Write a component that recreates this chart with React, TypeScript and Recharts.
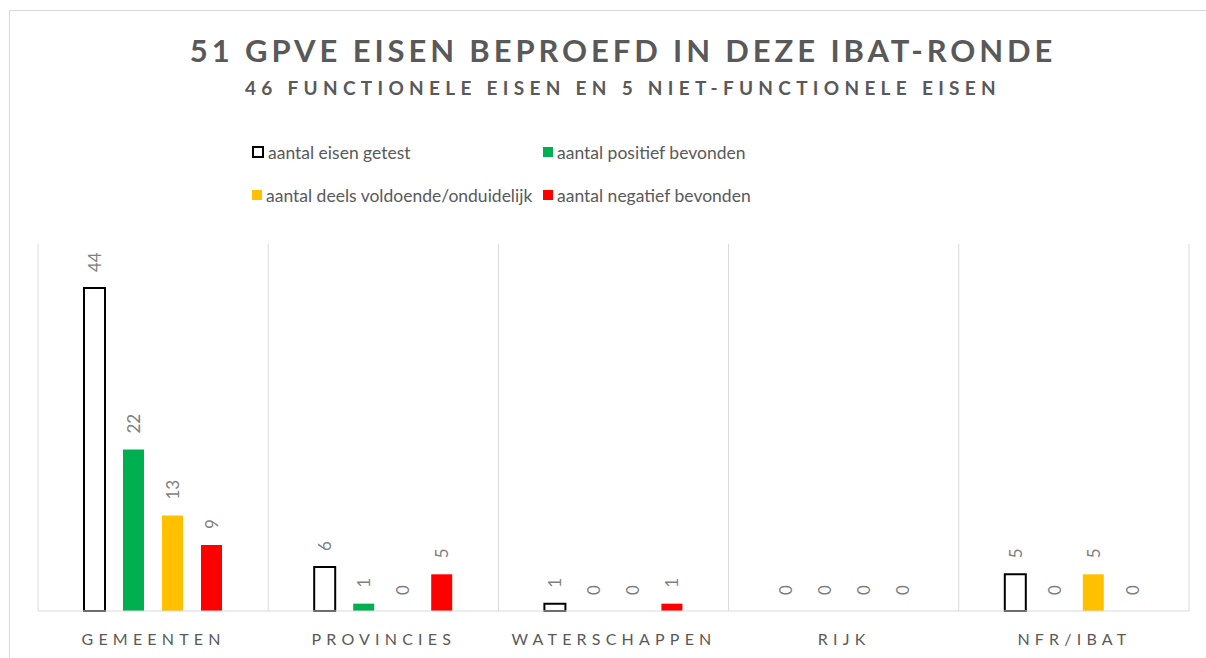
import { BarChart, Bar, XAxis, YAxis, CartesianGrid, Legend, LabelList, Cell } from 'recharts';

const categories = ['GEMEENTEN', 'PROVINCIES', 'WATERSCHAPPEN', 'RIJK', 'NFR/IBAT'];
const getest = [44, 6, 1, 0, 5];
const positief = [22, 1, 0, 0, 0];
const deels = [13, 0, 0, 0, 5];
const negatief = [9, 5, 1, 0, 0];

const seriesOrder = ['getest', 'positief', 'deels', 'negatief'];

const data = categories.map((name, i) => ({
  name,
  getest: getest[i],
  positief: positief[i],
  deels: deels[i],
  negatief: negatief[i],
}));

const FONT = 'Lato, "Noto Sans", sans-serif';
const GRID = '#d9d9d9';
const TEXT = '#595959';

// zero bars get a hairline height so recharts still places their labels
const zeroMin = (value: any) => (value === 0 ? 0.01 : 0);

// value label, rotated so it reads bottom-to-top above the bar
const RotatedLabel = (props: any) => {
  const { x, y, width, height, value } = props;
  const cx = x + width / 2;
  const top = Math.min(y, y + height) - 16;
  return (
    <text
      x={cx}
      y={top}
      transform={`rotate(-90 ${cx} ${top})`}
      textAnchor="start"
      dominantBaseline="central"
      fill="#7f7f7f"
      fontSize={17}
      fontFamily={FONT}
    >
      {value}
    </text>
  );
};

const CategoryTick = (props: any) => {
  const { x, y, payload } = props;
  return (
    <text
      x={x + 0.5}
      y={y + 26}
      textAnchor="middle"
      fill={TEXT}
      fontSize={16}
      letterSpacing={5.2}
      fontFamily={FONT}
    >
      {payload.value}
    </text>
  );
};

const LegendContent = (props: any) => {
  const payload = [...(props.payload || [])].sort(
    (a: any, b: any) => seriesOrder.indexOf(a.dataKey) - seriesOrder.indexOf(b.dataKey)
  );
  const cols = [266, 557];
  const rows = [152, 195];
  return (
    <div style={{ position: 'relative', width: 1206, height: 80 }}>
      {payload.map((item: any, i: number) => {
        const hollow = item.dataKey === 'getest';
        return (
          <div
            key={item.value}
            style={{
              position: 'absolute',
              left: cols[i % 2] - 14,
              top: rows[Math.floor(i / 2)] - 130 - 12,
              height: 24,
              display: 'flex',
              alignItems: 'center',
              whiteSpace: 'nowrap',
            }}
          >
            <span
              style={{
                display: 'inline-block',
                width: hollow ? 8 : 10,
                height: hollow ? 8 : 10,
                background: hollow ? '#fff' : item.color,
                border: hollow ? '2px solid #000' : 'none',
                marginRight: 4,
              }}
            />
            <span style={{ color: TEXT, fontSize: 17.5, fontFamily: FONT }}>{item.value}</span>
          </div>
        );
      })}
    </div>
  );
};

export default function App() {
  return (
    <div style={{ position: 'relative', width: 1206, height: 658, overflow: 'hidden', background: '#fff' }}>
      <style>{'body{margin:0}'}</style>
      <div
        style={{
          position: 'absolute',
          left: 9,
          top: 10,
          width: 1220,
          height: 680,
          border: `1px solid ${GRID}`,
        }}
      />
      <div
        style={{
          position: 'absolute',
          top: 30,
          width: 1206,
          left: 20,
          textAlign: 'center',
          fontFamily: FONT,
          fontWeight: 700,
          color: TEXT,
        }}
      >
        <div style={{ fontSize: 31, letterSpacing: 3.9, lineHeight: '40px' }}>51 GPVE EISEN BEPROEFD IN DEZE IBAT-RONDE</div>
        <div style={{ fontSize: 19, letterSpacing: 5.3, lineHeight: '26px', marginTop: 5 }}>
          46 FUNCTIONELE EISEN EN 5 NIET-FUNCTIONELE EISEN
        </div>
      </div>
      <BarChart
        width={1206}
        height={658}
        data={data}
        margin={{ top: 244, right: 17, left: 38, bottom: 0 }}
        barSize={21}
        barGap={18}
        style={{ position: 'absolute', left: 0, top: 0 }}
      >
        <CartesianGrid
          horizontal={false}
          stroke={GRID}
          verticalCoordinatesGenerator={({ offset }: any) =>
            categories.map((_, i) => offset.left + (i * offset.width) / categories.length).concat(offset.left + offset.width)
          }
        />
        <XAxis
          dataKey="name"
          height={47}
          tickLine={false}
          axisLine={{ stroke: GRID }}
          tick={<CategoryTick />}
          interval={0}
        />
        <YAxis hide domain={[0, 50]} />
        <Legend
          layout="horizontal"
          verticalAlign="middle"
          align="center"
          wrapperStyle={{ top: 130, left: 0, width: 1206, height: 80 }}
          content={<LegendContent />}
        />
        <Bar
          dataKey="getest"
          name="aantal eisen getest"
          fill="#ffffff"
          stroke="#000000"
          strokeWidth={2}
          minPointSize={zeroMin}
          isAnimationActive={false}
        >
          {data.map((d, i) => (
            <Cell key={`g-${i}`} stroke={d.getest === 0 ? 'none' : '#000000'} />
          ))}
          <LabelList dataKey="getest" content={<RotatedLabel />} />
        </Bar>
        <Bar dataKey="positief" name="aantal positief bevonden" fill="#00b050" minPointSize={zeroMin} isAnimationActive={false}>
          <LabelList dataKey="positief" content={<RotatedLabel />} />
        </Bar>
        <Bar dataKey="deels" name="aantal deels voldoende/onduidelijk" fill="#ffc000" minPointSize={zeroMin} isAnimationActive={false}>
          <LabelList dataKey="deels" content={<RotatedLabel />} />
        </Bar>
        <Bar dataKey="negatief" name="aantal negatief bevonden" fill="#ff0000" minPointSize={zeroMin} isAnimationActive={false}>
          <LabelList dataKey="negatief" content={<RotatedLabel />} />
        </Bar>
      </BarChart>
    </div>
  );
}
